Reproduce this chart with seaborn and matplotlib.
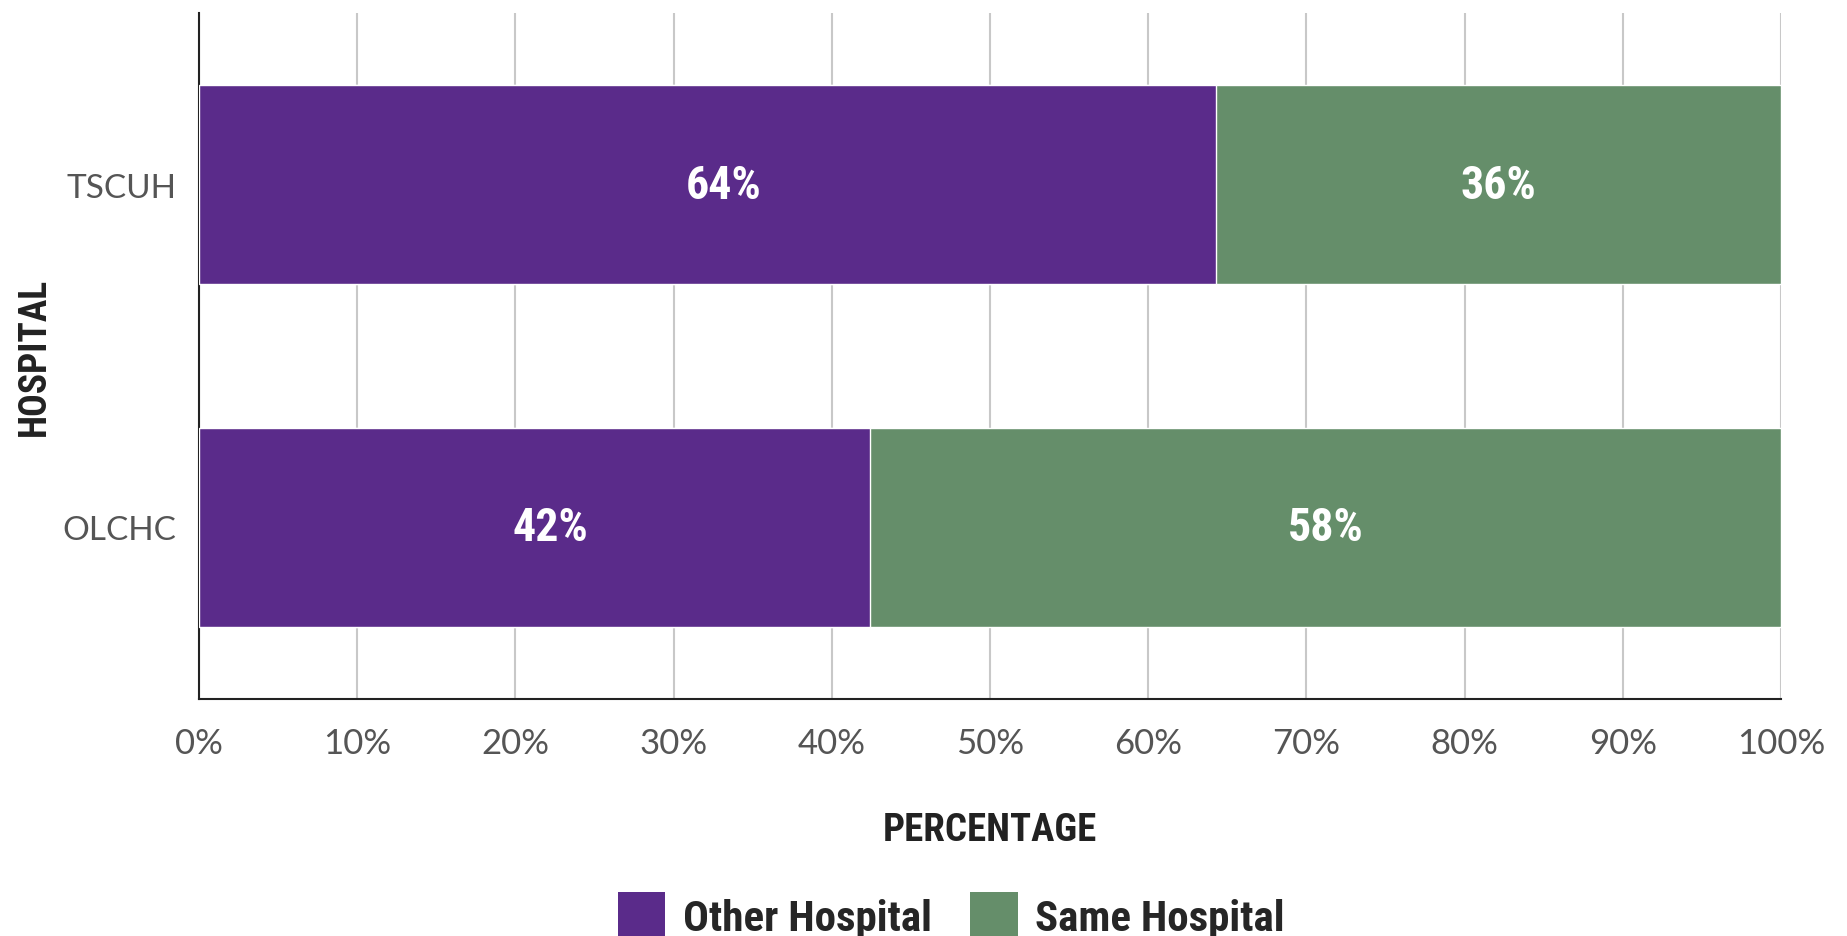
import matplotlib
matplotlib.use("Agg")
import matplotlib.pyplot as plt
import seaborn as sns
import pandas as pd
from matplotlib.patches import Patch
from matplotlib.ticker import FixedLocator, PercentFormatter

# datos
hospitales = ["TSCUH", "OLCHC"]
otro_hospital = [64.3, 42.4]
mismo_hospital = [35.7, 57.6]
series = ["Other Hospital", "Same Hospital"]
colores = ["#5A2B8A", "#658E6A"]

sns.set_style("white")
plt.rcParams["font.family"] = ["Lato", "DejaVu Sans"]
fuente_negrita = ["Roboto Condensed", "DejaVu Sans"]

df = pd.DataFrame({"Hospital": hospitales,
                   "Other": otro_hospital,
                   "Same": mismo_hospital})
df["Total"] = df["Other"] + df["Same"]

fig = plt.figure(figsize=(18.47, 9.37), dpi=100)
ax = fig.add_axes([0.1077, 0.253, 0.8566, 0.732])

# barras apiladas: total en verde, encima la parte morada
sns.barplot(data=df, y="Hospital", x="Total", color=colores[1], width=0.58,
            saturation=1, ax=ax, zorder=2)
sns.barplot(data=df, y="Hospital", x="Other", color=colores[0], width=0.58,
            saturation=1, ax=ax, zorder=3)

for i, row in df.iterrows():
    ax.text(row["Other"] / 2 + 1.0, i, f"{row['Other']:.0f}%", ha="center", va="center",
            color="white", fontsize=33, fontweight="bold", family=fuente_negrita, zorder=4)
    ax.text(row["Other"] + row["Same"] / 2, i, f"{row['Same']:.0f}%", ha="center",
            va="center", color="white", fontsize=33, fontweight="bold",
            family=fuente_negrita, zorder=4)

ax.set_xlim(0, 100)
ax.set_ylim(1.5, -0.5)
ax.xaxis.set_major_locator(FixedLocator(range(0, 101, 10)))
ax.xaxis.set_major_formatter(PercentFormatter(decimals=0))
ax.grid(axis="x", color="#c8c8c8", linewidth=1.5, zorder=0)
ax.set_axisbelow(True)

ax.yaxis.set_minor_locator(FixedLocator([-0.5, 0.5, 1.5]))
ax.tick_params(axis="y", which="major", length=0, pad=16, labelsize=24, labelcolor="#555555")
ax.tick_params(axis="y", which="minor", length=14.5, width=1.5, color="#222222")
ax.tick_params(axis="x", which="major", length=9, width=1.5, direction="out",
               color="#222222", labelsize=25, labelcolor="#555555", pad=11)

for lado in ["top", "right"]:
    ax.spines[lado].set_visible(False)
for lado in ["left", "bottom"]:
    ax.spines[lado].set_color("#222222")
    ax.spines[lado].set_linewidth(1.5)

ax.set_xlabel("PERCENTAGE", fontsize=28, fontweight="bold", family=fuente_negrita,
              color="#222222", labelpad=38)
ax.set_ylabel("HOSPITAL", fontsize=27, fontweight="bold", family=fuente_negrita,
              color="#222222")
ax.yaxis.set_label_coords(-0.092, 0.5)

handles = [Patch(facecolor=c, edgecolor="none") for c in colores]
fig.legend(handles, series, loc="center", bbox_to_anchor=(0.515, 0.022), ncol=2,
           frameon=False, prop={"family": fuente_negrita, "size": 31, "weight": "bold"},
           handlelength=1.1, handleheight=1.3, handletextpad=0.4, columnspacing=0.9)

fig.savefig("out.png", dpi=100, facecolor="white")
